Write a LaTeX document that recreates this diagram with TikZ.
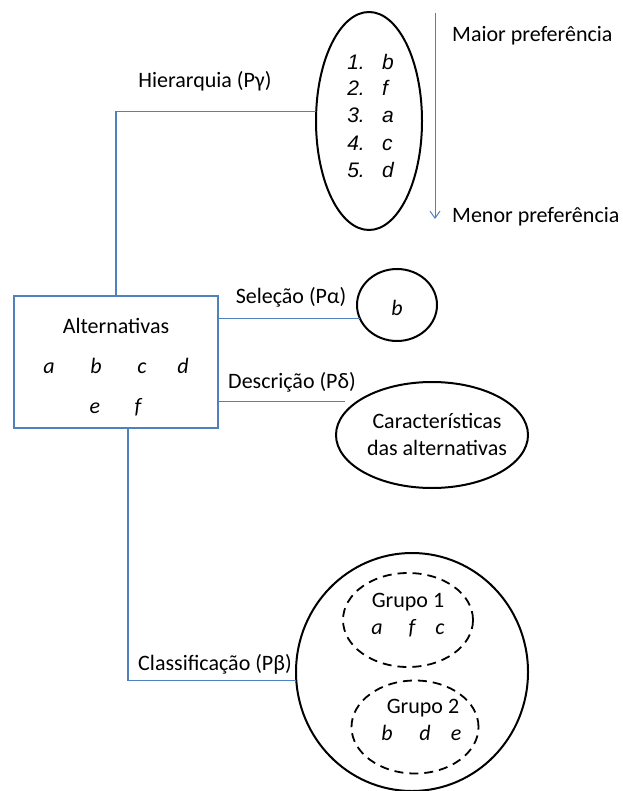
\documentclass[tikz,border=0pt]{standalone}
\usepackage{fontspec}
\setmainfont{Carlito}
\newfontfamily\arialf{Liberation Sans}
\usetikzlibrary{shapes.geometric,arrows.meta}
\definecolor{lineblue}{RGB}{79,129,189}
\tikzset{
  conn/.style={draw=lineblue, line width=1.1pt},
  boxst/.style={draw=lineblue, line width=1.1pt, rectangle, inner sep=0pt, outer sep=0pt},
  ell/.style={draw=black, line width=2pt, ellipse, inner sep=0pt, outer sep=0pt},
  grp/.style={draw=black, line width=1.8pt, ellipse, inner sep=0pt, outer sep=0pt, dash pattern=on 9pt off 6pt},
  txt/.style={inner sep=0pt, anchor=base, font=\fontsize{22}{26}\selectfont},
  itx/.style={inner sep=0pt, anchor=base, font=\fontsize{22}{26}\selectfont\itshape},
  lst/.style={inner sep=0pt, font=\arialf\fontsize{21}{25}\selectfont\itshape},
}
\begin{document}
\begin{tikzpicture}[x=1pt,y=-1pt]
\useasboundingbox (0,0) rectangle (622,791);
% nodes
\node[boxst, minimum width=204pt, minimum height=132pt] (box) at (116,362) {};
\node[txt] (alt) at (116,333) {Alternativas};
\node[itx] (xa) at (49,373) {a};
\node[itx] (xb) at (96,373) {b};
\node[itx] (xc) at (142,373) {c};
\node[itx] (xd) at (183,373) {d};
\node[itx] (xe) at (95,413) {e};
\node[itx] (xf) at (138,413) {f};

\node[ell, minimum width=106pt, minimum height=218pt] (e1) at (369,121) {};
\foreach \n/\l/\y in {1/b/70,2/f/96,3/a/123,4/c/151,5/d/178}{
  \node[lst, anchor=base east] (n\n) at (365,\y) {\n.};
  \node[lst, anchor=base west] (l\n) at (382,\y) {\l};
}
\coordinate (atop) at (435,13);
\coordinate (abot) at (435,219);
\node[txt, anchor=base west] (maior) at (452,42) {Maior preferência};
\node[txt, anchor=base west] (menor) at (452,223) {Menor preferência};

\node[ell, minimum width=80pt, minimum height=72pt] (c1) at (397,305) {};
\node[itx] (cb) at (397,315) {b};

\node[ell, minimum width=192pt, minimum height=106pt] (e3) at (432,435) {};
\node[txt] (car1) at (437,428) {Características};
\node[txt] (car2) at (437,455) {das alternativas};

\node[ell, minimum width=232pt, minimum height=238pt] (big) at (412,672) {};
\node[grp, minimum width=130pt, minimum height=94pt] (g1) at (408,620) {};
\node[txt] (gr1) at (408,607) {Grupo 1};
\node[itx] (g1a) at (377,634) {a};
\node[itx] (g1f) at (412,634) {f};
\node[itx] (g1c) at (440,634) {c};
\node[grp, minimum width=127pt, minimum height=93pt] (g2) at (415,727) {};
\node[txt] (gr2) at (423,713) {Grupo 2};
\node[itx] (g2b) at (387,740) {b};
\node[itx] (g2d) at (425,740) {d};
\node[itx] (g2e) at (456,740) {e};

% labels
\node[txt] (lh) at (205,88) {Hierarquia (Pγ)};
\node[txt] (ls) at (291,303) {Seleção (Pα)};
\node[txt] (ld) at (292,388) {Descrição (Pδ)};
\node[txt] (lc) at (215,670) {Classificação (Pβ)};

% connectors
\draw[conn] (box.north) |- (e1.170);
\draw[conn] (box.east |- c1.200) -- (c1.200);
\draw[conn, shorten >=12pt] (box.east |- e3.156) -- (e3.156);
\draw[conn] ([xshift=12pt]box.south) |- (big.184);
\draw[draw=lineblue, line width=1pt, -{Straight Barb[length=7pt,width=10pt]}] (atop) -- (abot);
\end{tikzpicture}
\end{document}
